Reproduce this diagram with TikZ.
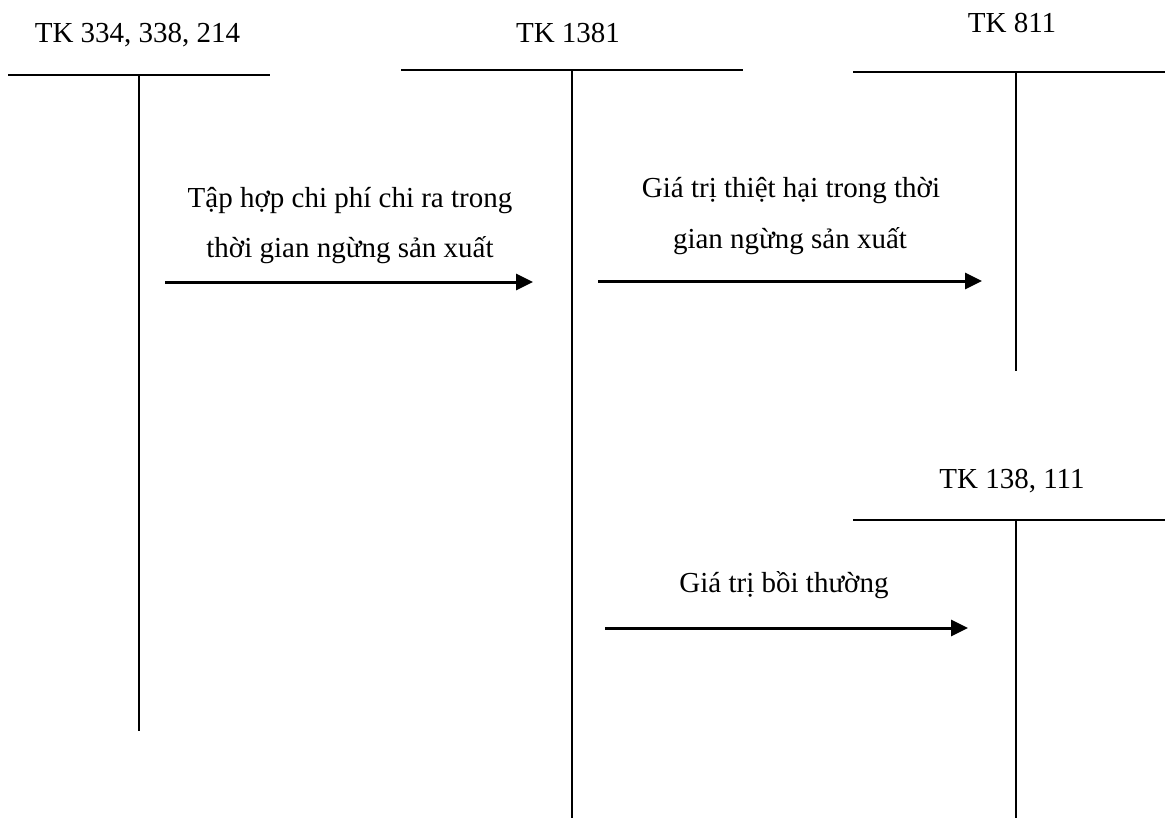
\documentclass[tikz,border=0pt]{standalone}
\usepackage{fontspec}
\setmainfont{Liberation Serif}
\usetikzlibrary{arrows.meta}

\begin{document}
\begin{tikzpicture}[x=0.5pt,y=-0.5pt,
	tacc/.style={line width=1pt},
	flow/.style={line width=1.5pt,-{Triangle[length=8.5pt,width=8pt]}},
	lbl/.style={anchor=base,inner sep=0pt,font=\fontsize{14.5}{25}\selectfont}]
	\useasboundingbox (0,0) rectangle (1165,818);
%
	\node[lbl] (tk334) at (137.5,43) {TK 334, 338, 214};
	\draw[tacc] (8,75) -- (270,75);
	\draw[tacc] (139,75) -- (139,731);
%
	\node[lbl] (tk1381) at (568,43) {TK 1381};
	\draw[tacc] (401,70) -- (743,70);
	\draw[tacc] (572,70) -- (572,818);
%
	\node[lbl] (tk811) at (1012,33) {TK 811};
	\draw[tacc] (853,72) -- (1165,72);
	\draw[tacc] (1016,72) -- (1016,371);
%
	\node[lbl] (tk138) at (1012,488) {TK 138, 111};
	\draw[tacc] (853,520) -- (1165,520);
	\draw[tacc] (1016,520) -- (1016,818);
%
	\coordinate (in1) at (165,282);
	\coordinate (out1) at (533,282);
	\draw[flow] (in1) -- (out1);
	\node[lbl] (cp1) at (350,207) {Tập hợp chi phí chi ra trong};
	\node[lbl] (cp2) at (350,257) {thời gian ngừng sản xuất};
%
	\coordinate (in2) at (598,281);
	\coordinate (out2) at (982,281);
	\draw[flow] (in2) -- (out2);
	\node[lbl] (th1) at (791,198) {Giá trị thiệt hại trong thời};
	\node[lbl] (th2) at (790,248) {gian ngừng sản xuất};
%
	\coordinate (in3) at (605,628);
	\coordinate (out3) at (968,628);
	\draw[flow] (in3) -- (out3);
	\node[lbl] (bt) at (784,592) {Giá trị bồi thường};
\end{tikzpicture}
\end{document}
